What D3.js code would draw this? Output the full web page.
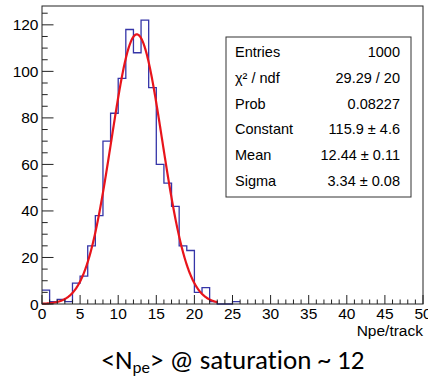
<!DOCTYPE html>
<html>
<head>
<meta charset="utf-8">
<script src="https://cdn.jsdelivr.net/npm/d3@7"></script>
<style>
  html, body { margin: 0; padding: 0; background: #fff; }
  svg { display: block; }
</style>
</head>
<body>
<svg id="chart" width="428" height="377"></svg>
<script>
// ---- data ----
const binEdgesStart = [0,1,2,3,4,5,6,7,8,9,10,11,12,13,14,15,16,17,18,19,20,21,22,23,24,25];
const binCounts     = [6,1,2,1,9,12,25,38,70,82,97,118,108,122,93,60,52,42,25,23,5,7,1,0,0,1];
const binWidth = 1;
const xTicks = [0,5,10,15,20,25,30,35,40,45,50];
const yTicks = [0,20,40,60,80,100,120];
const fitParams = { constant: 115.9, mean: 12.44, sigma: 3.34 };
const fitRange = [0, 23];
const statLabels = ["Entries", "\u03C7\u00B2 / ndf", "Prob", "Constant", "Mean", "Sigma"];
const statValues = ["1000", "29.29 / 20", "0.08227", "115.9 \u00B1 4.6", "12.44 \u00B1 0.11", "3.34 \u00B1 0.08"];

// ---- layout ----
const svg = d3.select("#chart");
const pL = 42, pR = 423, pT = 6, pB = 304;
const yMax = d3.max(binCounts) * 1.05;
const x = d3.scaleLinear().domain([0, 50]).range([pL, pR]);
const y = d3.scaleLinear().domain([0, yMax]).range([pB, pT]);
const font = "'Liberation Sans', Arial, Helvetica, sans-serif";

// histogram path (step outline)
const pts = [];
binCounts.forEach((c, i) => {
  const x0 = binEdgesStart[i], x1 = x0 + binWidth;
  pts.push([x(x0), y(c)], [x(x1), y(c)]);
});
svg.append("path")
  .attr("d", d3.line()(pts))
  .attr("fill", "none")
  .attr("stroke", "#3535a8")
  .attr("stroke-width", 1.3);

// fit curve
const fx = d3.range(fitRange[0], fitRange[1] + 0.001, 0.05);
const gauss = v => fitParams.constant * Math.exp(-0.5 * Math.pow((v - fitParams.mean) / fitParams.sigma, 2));
svg.append("path")
  .attr("d", d3.line().x(d => x(d)).y(d => y(gauss(d)))(fx))
  .attr("fill", "none")
  .attr("stroke", "#e8141b")
  .attr("stroke-width", 2.2);

// frame
svg.append("rect")
  .attr("x", pL).attr("y", pT)
  .attr("width", pR - pL).attr("height", pB - pT)
  .attr("fill", "none").attr("stroke", "#222").attr("stroke-width", 1);

// x axis ticks (inward)
const xMinor = d3.range(0, 51, 1);
const xg = svg.append("g");
xMinor.forEach(v => {
  const major = v % 5 === 0;
  xg.append("line")
    .attr("x1", x(v)).attr("x2", x(v))
    .attr("y1", pB).attr("y2", pB - (major ? 9 : 4.5))
    .attr("stroke", "#222").attr("stroke-width", 1);
});
xg.selectAll("text.xt").data(xTicks).enter().append("text")
  .attr("x", d => x(d)).attr("y", 319)
  .attr("text-anchor", "middle")
  .attr("font-family", font).attr("font-size", 15.5)
  .attr("fill", "#000")
  .text(d => d);

// y axis ticks
const yMinor = d3.range(0, 126, 5);
const yg = svg.append("g");
yMinor.forEach(v => {
  const major = v % 20 === 0;
  yg.append("line")
    .attr("x1", pL).attr("x2", pL + (major ? 11.5 : 5.7))
    .attr("y1", y(v)).attr("y2", y(v))
    .attr("stroke", "#222").attr("stroke-width", 1);
});
yg.selectAll("text.yt").data(yTicks).enter().append("text")
  .attr("x", 38.5).attr("y", d => y(d) + 5.5)
  .attr("text-anchor", "end")
  .attr("font-family", font).attr("font-size", 15.5)
  .attr("fill", "#000")
  .text(d => d);

// axis title
svg.append("text")
  .attr("x", pR).attr("y", 336)
  .attr("text-anchor", "end")
  .attr("font-family", font).attr("font-size", 15.5)
  .attr("fill", "#000")
  .text("Npe/track");

// stats box
const bx = 226, by = 37, bw = 185, bh = 160;
svg.append("rect")
  .attr("x", bx).attr("y", by).attr("width", bw).attr("height", bh)
  .attr("fill", "#fff").attr("stroke", "#333").attr("stroke-width", 1);
const rowY = [56.7, 82.7, 108.5, 134.3, 160, 185.8];
statLabels.forEach((s, i) => {
  svg.append("text")
    .attr("x", 235).attr("y", rowY[i])
    .attr("font-family", font).attr("font-size", 14.5).attr("fill", "#000")
    .text(s);
  svg.append("text")
    .attr("x", 400).attr("y", rowY[i])
    .attr("text-anchor", "end")
    .attr("font-family", font).attr("font-size", 14.5).attr("fill", "#000")
    .text(statValues[i]);
});

// caption
const cap = svg.append("text")
  .attr("x", 233).attr("y", 369)
  .attr("text-anchor", "middle")
  .attr("font-family", "Carlito, Lato, 'Open Sans', sans-serif")
  .attr("font-size", 27)
  .style("font-variant-ligatures", "none")
  .attr("fill", "#000");
cap.append("tspan").text("<N");
cap.append("tspan").attr("font-size", 17).attr("dy", 4).text("pe");
cap.append("tspan").attr("dy", -4).text("> @ saturation ~ 12");
</script>
</body>
</html>
